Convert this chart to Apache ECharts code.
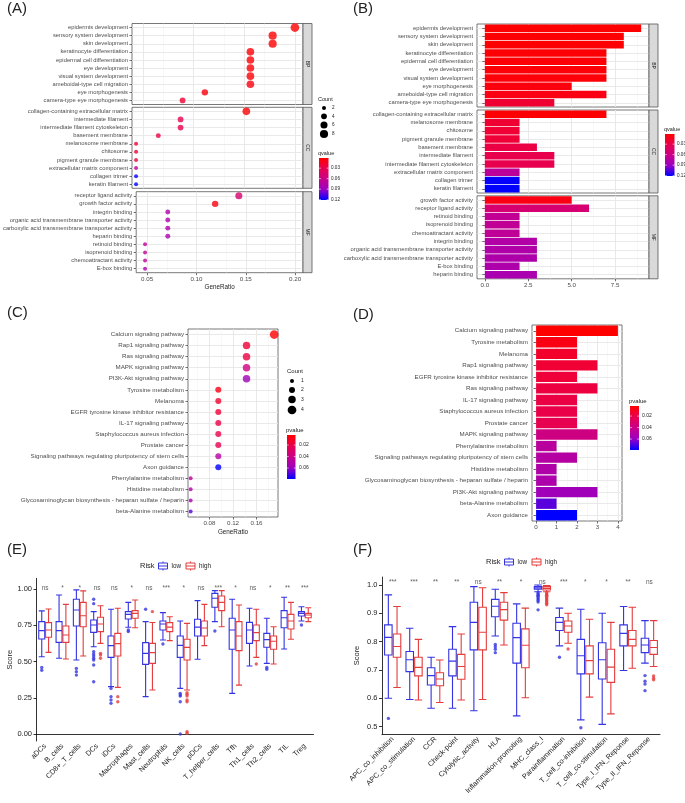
<!DOCTYPE html>
<html><head><meta charset="utf-8">
<script src="https://cdn.jsdelivr.net/npm/echarts@6/dist/echarts.min.js"></script>
<style>html,body{margin:0;padding:0;background:#fff}#c{width:685px;height:803px}</style>
</head><body><div id="c"></div>
<script>
const FONT = '"Liberation Sans", Arial, Helvetica, sans-serif';

// ---------- Panel A / B : GO enrichment ----------
const aBPTerms = ['epidermis development','sensory system development','skin development','keratinocyte differentiation','epidermal cell differentiation','eye development','visual system development','ameboidal-type cell migration','eye morphogenesis','camera-type eye morphogenesis'];
const aBPRatio = [0.200,0.178,0.178,0.156,0.156,0.156,0.156,0.156,0.111,0.089];
const aBPCount = [9,8,8,7,7,7,7,7,5,4];
const aBPQ     = [0.001,0.002,0.002,0.003,0.003,0.004,0.004,0.008,0.006,0.020];

const aCCTerms = ['collagen-containing extracellular matrix','intermediate filament','intermediate filament cytoskeleton','basement membrane','melanosome membrane','chitosome','pigment granule membrane','extracellular matrix component','collagen trimer','keratin filament'];
const aCCRatio = [0.152,0.087,0.087,0.065,0.043,0.043,0.043,0.043,0.043,0.043];
const aCCCount = [7,4,4,3,2,2,2,2,2,2];
const aCCQ     = [0.002,0.030,0.031,0.027,0.020,0.021,0.022,0.070,0.120,0.121];

const aMFTerms = ['receptor ligand activity','growth factor activity','integrin binding','organic acid transmembrane transporter activity','carboxylic acid transmembrane transporter activity','heparin binding','retinoid binding','isoprenoid binding','chemoattractant activity','E-box binding'];
const aMFRatio = [0.143,0.119,0.071,0.071,0.071,0.071,0.048,0.048,0.048,0.048];
const aMFCount = [6,5,3,3,3,3,2,2,2,2];
const aMFQ     = [0.048,0.008,0.076,0.077,0.078,0.081,0.066,0.067,0.068,0.079];

const bBPTerms = ['epidermis development','sensory system development','skin development','keratinocyte differentiation','epidermal cell differentiation','eye development','visual system development','eye morphogenesis','ameboidal-type cell migration','camera-type eye morphogenesis'];
const bBPCount = [9,8,8,7,7,7,7,5,7,4];
const bBPQ     = [0.001,0.002,0.002,0.003,0.003,0.004,0.004,0.006,0.008,0.020];

const bCCTerms = ['collagen-containing extracellular matrix','melanosome membrane','chitosome','pigment granule membrane','basement membrane','intermediate filament','intermediate filament cytoskeleton','extracellular matrix component','collagen trimer','keratin filament'];
const bCCCount = [7,2,2,2,3,4,4,2,2,2];
const bCCQ     = [0.002,0.020,0.021,0.022,0.027,0.030,0.031,0.070,0.120,0.121];

const bMFTerms = ['growth factor activity','receptor ligand activity','retinoid binding','isoprenoid binding','chemoattractant activity','integrin binding','organic acid transmembrane transporter activity','carboxylic acid transmembrane transporter activity','E-box binding','heparin binding'];
const bMFCount = [5,6,2,2,2,3,3,3,2,3];
const bMFQ     = [0.008,0.048,0.066,0.067,0.068,0.076,0.077,0.078,0.079,0.081];

const goTicksA = [0.05,0.10,0.15,0.20];
const goMinorA = [0.075,0.125,0.175];
const goTicksB = [0,2.5,5,7.5];
const goMinorB = [1.25,3.75,6.25,8.75];
const qLegendTicks = [0.03,0.06,0.09,0.12];
const countLegendA = [2,4,6,8];

// ---------- Panel C / D : KEGG ----------
const cTerms = ['Calcium signaling pathway','Rap1 signaling pathway','Ras signaling pathway','MAPK signaling pathway','PI3K-Akt signaling pathway','Tyrosine metabolism','Melanoma','EGFR tyrosine kinase inhibitor resistance','IL-17 signaling pathway','Staphylococcus aureus infection','Prostate cancer','Signaling pathways regulating pluripotency of stem cells','Axon guidance','Phenylalanine metabolism','Histidine metabolism','Glycosaminoglycan biosynthesis - heparan sulfate / heparin','beta-Alanine metabolism'];
const cRatio = [0.190,0.143,0.143,0.143,0.143,0.095,0.095,0.095,0.095,0.095,0.095,0.095,0.095,0.048,0.048,0.048,0.048];
const cCount = [4,3,3,3,3,2,2,2,2,2,2,2,2,1,1,1,1];
const cP     = [0.0025,0.015,0.018,0.038,0.057,0.007,0.013,0.016,0.019,0.020,0.022,0.049,0.079,0.047,0.051,0.052,0.068];

const dTerms = ['Calcium signaling pathway','Tyrosine metabolism','Melanoma','Rap1 signaling pathway','EGFR tyrosine kinase inhibitor resistance','Ras signaling pathway','IL-17 signaling pathway','Staphylococcus aureus infection','Prostate cancer','MAPK signaling pathway','Phenylalanine metabolism','Signaling pathways regulating pluripotency of stem cells','Histidine metabolism','Glycosaminoglycan biosynthesis - heparan sulfate / heparin','PI3K-Akt signaling pathway','beta-Alanine metabolism','Axon guidance'];
const dCount = [4,2,2,3,2,3,2,2,2,3,1,2,1,1,3,1,2];
const dP     = [0.0025,0.007,0.013,0.015,0.016,0.018,0.019,0.020,0.022,0.038,0.047,0.049,0.051,0.052,0.057,0.068,0.079];

const keggTicksC = [0.08,0.12,0.16];
const keggMinorC = [0.06,0.10,0.14,0.18];
const keggTicksD = [0,1,2,3,4];
const keggMinorD = [0.5,1.5,2.5,3.5];
const pLegendTicks = [0.02,0.04,0.06];
const countLegendC = [1,2,3,4];

// ---------- Panel E : immune cells ----------
const eCells = ['aDCs','B_cells','CD8+_T_cells','DCs','iDCs','Macrophages','Mast_cells','Neutrophils','NK_cells','pDCs','T_helper_cells','Tfh','Th1_cells','Th2_cells','TIL','Treg'];
const eSig = ['ns','*','*','ns','ns','*','ns','***','*','ns','***','*','ns','*','**','***'];
const eLow = [
 [0.534,0.656,0.714,0.776,0.850],[0.523,0.633,0.714,0.776,0.960],[0.511,0.746,0.856,0.930,0.995],
 [0.603,0.702,0.753,0.787,0.845],[0.327,0.529,0.610,0.677,0.861],[0.737,0.794,0.826,0.845,0.909],
 [0.258,0.481,0.557,0.631,0.776],[0.649,0.718,0.760,0.780,0.838],[0.315,0.529,0.612,0.677,0.780],
 [0.516,0.677,0.738,0.792,0.921],[0.776,0.875,0.937,0.971,0.990],[0.281,0.585,0.718,0.799,0.930],
 [0.470,0.626,0.718,0.771,0.868],[0.488,0.599,0.652,0.695,0.799],[0.587,0.734,0.803,0.852,0.944],
 [0.780,0.815,0.833,0.845,0.879]];
const eHigh = [
 [0.564,0.668,0.718,0.769,0.863],[0.518,0.633,0.684,0.746,0.895],[0.539,0.741,0.817,0.909,0.988],
 [0.626,0.707,0.760,0.806,0.886],[0.322,0.539,0.624,0.695,0.868],[0.734,0.799,0.833,0.852,0.925],
 [0.304,0.488,0.562,0.626,0.770],[0.645,0.707,0.738,0.769,0.810],[0.304,0.511,0.598,0.654,0.764],
 [0.610,0.677,0.732,0.780,0.895],[0.741,0.852,0.909,0.953,0.990],[0.338,0.576,0.677,0.776,0.891],
 [0.529,0.645,0.700,0.753,0.861],[0.483,0.585,0.640,0.677,0.741],[0.654,0.725,0.780,0.826,0.909],
 [0.776,0.803,0.822,0.833,0.872]];
const eLowOut = [[0,0.46],[0,0.44],[2,0.453],[2,0.43],[2,0.407],[3,0.93],[3,0.90],[3,0.569],[3,0.553],[3,0.539],[3,0.523],[3,0.511],[3,0.477],[3,0.361],[4,0.315],[4,0.258],[4,0.235],[4,0.212],[5,0.718],[5,0.707],[6,0.861],[7,0.622],[8,0.281],[8,0.269],[8,0.262],[8,0.223],[8,0.0],[10,0.711],[13,0.46],[13,0.447],[15,0.753]];
const eHighOut = [[3,0.557],[3,0.546],[3,0.523],[4,0.258],[4,0.223],[6,0.845],[8,0.285],[8,0.274],[8,0.262],[8,0.235],[8,0.223],[8,0.016],[8,0.005],[12,0.483]];
const eTicks = [0,0.25,0.5,0.75,1.0];

// ---------- Panel F : immune functions ----------
const fSets = ['APC_co_inhibition','APC_co_stimulation','CCR','Check-point','Cytolytic_activity','HLA','Inflammation-promoting','MHC_class_I','Parainflammation','T_cell_co-inhibition','T_cell_co-stimulation','Type_I_IFN_Reponse','Type_II_IFN_Reponse'];
const fSig = ['***','***','**','**','ns','**','*','ns','***','*','*','**','ns'];
const fLow = [
 [0.600,0.753,0.815,0.859,0.965],[0.596,0.694,0.736,0.765,0.847],[0.565,0.647,0.680,0.708,0.745],
 [0.565,0.679,0.731,0.773,0.853],[0.556,0.771,0.868,0.939,0.994],[0.820,0.888,0.925,0.949,0.985],
 [0.538,0.724,0.814,0.865,0.933],[0.976,0.985,0.989,0.994,1.000],[0.785,0.839,0.868,0.885,0.918],
 [0.524,0.686,0.750,0.808,0.914],[0.508,0.668,0.736,0.796,0.900],[0.698,0.785,0.829,0.859,0.924],
 [0.724,0.761,0.788,0.812,0.874]];
const fHigh = [
 [0.638,0.745,0.783,0.827,0.924],[0.594,0.679,0.709,0.745,0.808],[0.585,0.644,0.668,0.690,0.735],
 [0.594,0.667,0.712,0.755,0.827],[0.596,0.771,0.833,0.921,0.990],[0.788,0.876,0.913,0.939,0.973],
 [0.602,0.708,0.787,0.845,0.918],[0.976,0.982,0.988,0.994,0.998],[0.794,0.833,0.855,0.873,0.900],
 [0.604,0.686,0.733,0.785,0.879],[0.545,0.656,0.710,0.773,0.868],[0.706,0.785,0.808,0.839,0.921],
 [0.712,0.755,0.779,0.804,0.874]];
const fLowOut = [[0,0.529],[5,0.790],[5,0.782],[5,0.773],[5,0.761],[7,0.972],[7,0.968],[7,0.964],[7,0.960],[7,0.955],[7,0.950],[7,0.945],[7,0.940],[7,0.912],[8,0.745],[9,0.496],[12,0.680],[12,0.660],[12,0.650],[12,0.627]];
const fHighOut = [[7,0.972],[7,0.968],[7,0.964],[7,0.960],[7,0.955],[7,0.950],[7,0.945],[7,0.940],[7,0.935],[7,0.930],[8,0.774],[12,0.679],[12,0.671],[12,0.665]];
const fTicks = [0.5,0.6,0.7,0.8,0.9,1.0];

// ---------- styling ----------
const gradStops = ['#FF0000','#E8004F','#C90089','#9A00C2','#0000FF'];
const LOW = '#3434e2', HIGH = '#e63c3c';
const sizeA = c => Math.sqrt(16 + (c - 2) * 8.5);
const sizeC = c => Math.sqrt(16 + (c - 1) * 20);

const grids = [], xAxes = [], yAxes = [], series = [], lineSeries = [], gfx = [];
const abSeries = [], cdSeries = [];

function txt(x, y, s, size, opt) {
  return Object.assign({type:'text', x, y, silent:true, z:20,
    style:{text:s, font:size + 'px ' + FONT, fill:'#222', align:'left', verticalAlign:'middle'}}, opt || {});
}
function strip(x, y, w, h, label) {
  gfx.push({type:'rect', silent:true, z:10, shape:{x, y, width:w, height:h}, style:{fill:'#d9d9d9', stroke:'#555', lineWidth:0.8}});
  gfx.push({type:'text', silent:true, z:11, x:x + w/2, y:y + h/2, rotation:-Math.PI/2,
    style:{text:label, font:'5px ' + FONT, fill:'#1a1a1a', align:'center', verticalAlign:'middle'}});
}
function gridLines(idx, majors, minors, nCats) {
  const d = [];
  majors.forEach(v => d.push({xAxis:v, lineStyle:{color:'#e6e6e6', width:0.9, type:'solid'}}));
  minors.forEach(v => d.push({xAxis:v, lineStyle:{color:'#f0f0f0', width:0.5, type:'solid'}}));
  for (let i = 0; i < nCats; i++) d.push({yAxis:i, lineStyle:{color:'#e6e6e6', width:0.9, type:'solid'}});
  lineSeries.push({type:'scatter', xAxisIndex:idx, yAxisIndex:idx, data:[], z:0, silent:true, animation:false,
    markLine:{z:0, zlevel:0, silent:true, symbol:['none','none'], label:{show:false}, animation:false, data:d}});
}
function catY(idx, terms, fs) {
  return {gridIndex:idx, type:'category', data:terms, inverse:true,
    axisLine:{show:false}, splitLine:{show:false},
    axisTick:{show:true, alignWithLabel:true, length:2.5, lineStyle:{color:'#333', width:0.7}},
    axisLabel:{interval:0, fontSize:fs, color:'#4d4d4d', margin:4, fontFamily:FONT}};
}
function valX(idx, min, max, ticks, fmt, show, name) {
  return {gridIndex:idx, type:'value', min, max, axisLine:{show:false}, splitLine:{show:false},
    axisTick:{show:show, customValues:ticks, length:2.5, lineStyle:{color:'#333', width:0.7}},
    axisLabel:{show:show, customValues:ticks, formatter:fmt, fontSize:6.2, color:'#4d4d4d', margin:3.5, fontFamily:FONT},
    name:name || '', nameLocation:'middle', nameGap:12, nameTextStyle:{fontSize:6.3, color:'#222', fontFamily:FONT}};
}
function panelGrid(left, top, width, height) {
  return {left, top, width, height, show:true, borderColor:'#555', borderWidth:0.8, backgroundColor:'rgba(0,0,0,0)'};
}
function colorbar(x, y, w, h, min, max, ticks, title, lx, titleSize, tickSize) {
  gfx.push(txt(x - 1, y - 5, title, titleSize));
  gfx.push({type:'rect', silent:true, z:12, shape:{x, y, width:w, height:h},
    style:{fill:new echarts.graphic.LinearGradient(0, 0, 0, 1, gradStops.map((c, i) => ({offset:i/(gradStops.length-1), color:c})))}});
  ticks.forEach(t => {
    const ty = y + (t - min) / (max - min) * h;
    gfx.push({type:'line', silent:true, z:13, shape:{x1:x, y1:ty, x2:x + w*0.2, y2:ty}, style:{stroke:'#fff', lineWidth:0.6}});
    gfx.push({type:'line', silent:true, z:13, shape:{x1:x + w*0.8, y1:ty, x2:x + w, y2:ty}, style:{stroke:'#fff', lineWidth:0.6}});
    gfx.push(txt(lx, ty, String(t), tickSize, {}));
  });
}

// ---------- A ----------
const aFacets = [
  {terms:aBPTerms, ratio:aBPRatio, count:aBPCount, q:aBPQ, top:23.5, lab:'BP'},
  {terms:aCCTerms, ratio:aCCRatio, count:aCCCount, q:aCCQ, top:107.3, lab:'CC'},
  {terms:aMFTerms, ratio:aMFRatio, count:aMFCount, q:aMFQ, top:191.7, lab:'MF'}];
aFacets.forEach((f, k) => {
  const idx = grids.length;
  grids.push(panelGrid(132, f.top, 171, 81));
  xAxes.push(valX(idx, 0.039, 0.208, goTicksA, v => v.toFixed(2), k === 2, k === 2 ? 'GeneRatio' : ''));
  yAxes.push(catY(idx, f.terms, 5.8));
  abSeries.push(series.length);
  series.push({type:'scatter', xAxisIndex:idx, yAxisIndex:idx, z:3, animation:false,
    data:f.terms.map((t, i) => [f.ratio[i], i, f.count[i], f.q[i]]),
    symbolSize:v => sizeA(v[2])});
  gridLines(idx, goTicksA, goMinorA, f.terms.length);
  strip(303, f.top, 9, 81, f.lab);
});

// ---------- B ----------
const bFacets = [
  {terms:bBPTerms, count:bBPCount, q:bBPQ, top:24, lab:'BP'},
  {terms:bCCTerms, count:bCCCount, q:bCCQ, top:110, lab:'CC'},
  {terms:bMFTerms, count:bMFCount, q:bMFQ, top:195.8, lab:'MF'}];
bFacets.forEach((f, k) => {
  const idx = grids.length;
  grids.push(panelGrid(477, f.top, 172, 83));
  xAxes.push(valX(idx, -0.45, 9.45, goTicksB, v => v.toFixed(1), k === 2, ''));
  yAxes.push(catY(idx, f.terms, 5.8));
  abSeries.push(series.length);
  series.push({type:'bar', xAxisIndex:idx, yAxisIndex:idx, z:3, animation:false, barWidth:'90%',
    encode:{x:0, y:1},
    data:f.terms.map((t, i) => [f.count[i], i, f.count[i], f.q[i]])});
  gridLines(idx, goTicksB, goMinorB, f.terms.length);
  strip(649, f.top, 9, 83, f.lab);
});

// ---------- C ----------
{
  const idx = grids.length;
  grids.push(panelGrid(188, 329, 90, 188));
  xAxes.push(valX(idx, 0.0435, 0.1965, keggTicksC, v => v.toFixed(2), true, 'GeneRatio'));
  yAxes.push(catY(idx, cTerms, 6.2));
  cdSeries.push(series.length);
  series.push({type:'scatter', xAxisIndex:idx, yAxisIndex:idx, z:3, animation:false,
    data:cTerms.map((t, i) => [cRatio[i], i, cCount[i], cP[i]]),
    symbolSize:v => sizeC(v[2])});
  gridLines(idx, keggTicksC, keggMinorC, cTerms.length);
}
// ---------- D ----------
{
  const idx = grids.length;
  grids.push(panelGrid(532, 325, 90, 196));
  xAxes.push(valX(idx, -0.2, 4.2, keggTicksD, v => String(v), true, ''));
  yAxes.push(catY(idx, dTerms, 6.2));
  cdSeries.push(series.length);
  series.push({type:'bar', xAxisIndex:idx, yAxisIndex:idx, z:3, animation:false, barWidth:'90%',
    encode:{x:0, y:1},
    data:dTerms.map((t, i) => [dCount[i], i, dCount[i], dP[i]])});
  gridLines(idx, keggTicksD, keggMinorD, dTerms.length);
}

// ---------- E / F boxplots ----------
function boxPanel(cfg) {
  const idx = grids.length;
  grids.push({left:cfg.left, top:cfg.top, width:cfg.width, height:cfg.height});
  xAxes.push({gridIndex:idx, type:'category', data:cfg.cats,
    axisLine:{lineStyle:{color:'#000', width:0.8}},
    axisTick:{alignWithLabel:true, length:3, lineStyle:{color:'#000', width:0.8}},
    axisLabel:{rotate:45, interval:0, fontSize:7.3, color:'#222', margin:4, fontFamily:FONT},
    splitLine:{show:false}});
  yAxes.push({gridIndex:idx, type:'value', min:cfg.min, max:cfg.max,
    axisLine:{show:true, lineStyle:{color:'#000', width:0.8}},
    axisTick:{show:true, customValues:cfg.ticks, length:3, lineStyle:{color:'#000', width:0.8}},
    axisLabel:{customValues:cfg.ticks, formatter:cfg.fmt, fontSize:7.5, color:'#222', margin:4.5, fontFamily:FONT},
    splitLine:{show:false},
    name:'Score', nameLocation:'middle', nameGap:cfg.nameGap, nameRotate:90,
    nameTextStyle:{fontSize:7.5, color:'#222', fontFamily:FONT}});
  const bw = cfg.boxW;
  series.push({type:'boxplot', xAxisIndex:idx, yAxisIndex:idx, data:cfg.low, boxWidth:[bw, bw], z:3, animation:false,
    itemStyle:{color:'#fff', borderColor:LOW, borderWidth:1.1}});
  series.push({type:'boxplot', xAxisIndex:idx, yAxisIndex:idx, data:cfg.high, boxWidth:[bw, bw], z:3, animation:false,
    itemStyle:{color:'#fff', borderColor:HIGH, borderWidth:1.1}});
  series.push({type:'scatter', xAxisIndex:idx, yAxisIndex:idx, data:cfg.lowOut, symbolSize:3.4, z:4, animation:false,
    symbolOffset:[-cfg.off, 0], itemStyle:{color:LOW}});
  series.push({type:'scatter', xAxisIndex:idx, yAxisIndex:idx, data:cfg.highOut, symbolSize:3.4, z:4, animation:false,
    symbolOffset:[cfg.off, 0], itemStyle:{color:HIGH}});
  series.push({type:'scatter', xAxisIndex:idx, yAxisIndex:idx, z:5, animation:false, silent:true,
    data:cfg.cats.map((c, i) => [i, cfg.sigY]), symbolSize:1, itemStyle:{color:'rgba(0,0,0,0)'},
    label:{show:true, position:'inside', formatter:p => cfg.sig[p.dataIndex], fontSize:6.5, color:'#333', fontFamily:FONT}});
}
boxPanel({cats:eCells, sig:eSig, low:eLow, high:eHigh, lowOut:eLowOut, highOut:eHighOut,
  left:36.5, top:578.3, width:277, height:162.7, min:-0.048, max:1.075, ticks:eTicks,
  fmt:v => v.toFixed(2), nameGap:22, boxW:6, off:3.4, sigY:1.008});
boxPanel({cats:fSets, sig:fSig, low:fLow, high:fHigh, lowOut:fLowOut, highOut:fHighOut,
  left:382, top:577, width:278, height:157, min:0.474, max:1.028, ticks:fTicks,
  fmt:v => v.toFixed(1), nameGap:21, boxW:7.5, off:4.3, sigY:1.011});

// ---------- legends & titles ----------
gfx.push(txt(7, 9, '(A)', 15));
gfx.push(txt(353, 9, '(B)', 15));
gfx.push(txt(7, 313, '(C)', 15));
gfx.push(txt(353, 315, '(D)', 15));
gfx.push(txt(7, 550, '(E)', 15));
gfx.push(txt(353, 550, '(F)', 15));

// A count legend
gfx.push(txt(318, 99, 'Count', 5.5));
[108, 116.3, 125, 134].forEach((y, i) => {
  gfx.push({type:'circle', silent:true, z:12, shape:{cx:324, cy:y, r:sizeA(countLegendA[i]) / 2}, style:{fill:'#000'}});
  gfx.push(txt(332, y, String(countLegendA[i]), 4.6));
});
colorbar(319, 158, 9.5, 42, 0.001, 0.121, qLegendTicks, 'qvalue', 331, 5.5, 4.6);
colorbar(665, 134, 9.5, 42, 0.001, 0.121, qLegendTicks, 'qvalue', 677, 5.5, 4.6);
// C count legend
gfx.push(txt(287, 371, 'Count', 6));
[381, 390, 399.5, 410].forEach((y, i) => {
  gfx.push({type:'circle', silent:true, z:12, shape:{cx:292, cy:y, r:sizeC(countLegendC[i]) / 2}, style:{fill:'#000'}});
  gfx.push(txt(301, y, String(countLegendC[i]), 5));
});
colorbar(287, 435, 8.5, 44, 0.0025, 0.079, pLegendTicks, 'pvalue', 299, 6, 5);
colorbar(630, 406, 9, 44, 0.0025, 0.079, pLegendTicks, 'pvalue', 642, 6, 5);

function boxIcon(x, y, color) {
  gfx.push({type:'rect', silent:true, z:12, shape:{x, y:y - 3, width:9, height:6}, style:{fill:'#fff', stroke:color, lineWidth:1}});
  gfx.push({type:'line', silent:true, z:13, shape:{x1:x, y1:y, x2:x + 9, y2:y}, style:{stroke:color, lineWidth:1}});
  gfx.push({type:'line', silent:true, z:13, shape:{x1:x + 4.5, y1:y - 4.5, x2:x + 4.5, y2:y - 3}, style:{stroke:color, lineWidth:1}});
  gfx.push({type:'line', silent:true, z:13, shape:{x1:x + 4.5, y1:y + 3, x2:x + 4.5, y2:y + 4.5}, style:{stroke:color, lineWidth:1}});
}
function riskLegend(x0, y) {
  gfx.push(txt(x0, y, 'Risk', 7.5));
  boxIcon(x0 + 18.5, y, LOW);
  gfx.push(txt(x0 + 31.5, y, 'low', 6.3));
  boxIcon(x0 + 46, y, HIGH);
  gfx.push(txt(x0 + 59, y, 'high', 6.3));
}
riskLegend(140, 566);
riskLegend(486, 562);

const chart = echarts.init(document.getElementById('c'), null, {renderer:'canvas', width:685, height:803});
chart.setOption({
  animation:false,
  backgroundColor:'#fff',
  textStyle:{fontFamily:FONT},
  grid:grids, xAxis:xAxes, yAxis:yAxes,
  visualMap:[
    {type:'continuous', show:false, seriesIndex:abSeries, dimension:3, min:0.001, max:0.121, inRange:{color:gradStops}},
    {type:'continuous', show:false, seriesIndex:cdSeries, dimension:3, min:0.0025, max:0.079, inRange:{color:gradStops}}],
  series:series.concat(lineSeries),
  graphic:{elements:gfx}
});
</script></body></html>
